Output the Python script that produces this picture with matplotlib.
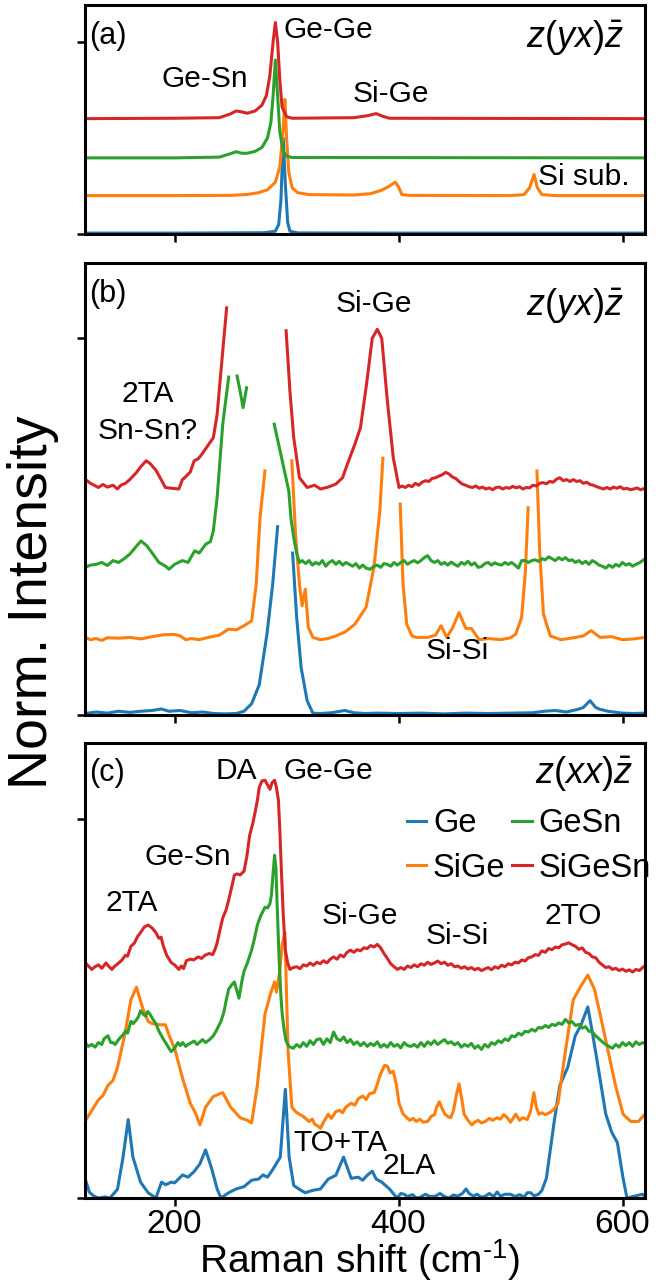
import numpy as np
import matplotlib
matplotlib.use("Agg")
import matplotlib.pyplot as plt

nan = np.nan

# ---- panel (a): z(yx)z, full scale ----
a_ge_x = [120, 200, 280, 290, 293, 295, 297, 299, 301, 303, 310, 400, 500, 620]
a_ge_y = [0.005, 0.005, 0.007, 0.015, 0.05, 0.18, 0.50, 0.25, 0.06, 0.015, 0.006, 0.005, 0.005, 0.005]

a_sige_x = [120, 200, 250, 265, 275, 283, 290, 294, 297, 298.5, 300, 302, 305, 310, 320, 360, 375, 385,
            392, 397, 400, 403, 410, 500, 512, 517, 521, 524, 528, 540, 620]
a_sige_y = [0.2, 0.2, 0.201, 0.206, 0.215, 0.23, 0.27, 0.35, 0.55, 0.70, 0.5, 0.32, 0.24, 0.215, 0.205, 0.203,
            0.21, 0.228, 0.25, 0.27, 0.245, 0.205, 0.201, 0.2, 0.205, 0.24, 0.31, 0.24, 0.205, 0.2, 0.2]

a_gesn_x = [120, 200, 240, 250, 255, 260, 265, 272, 278, 283, 286, 288, 290, 292, 294, 297, 300, 305, 620]
a_gesn_y = [0.396, 0.396, 0.40, 0.418, 0.428, 0.42, 0.42, 0.43, 0.45, 0.50, 0.58, 0.72, 0.905, 0.72, 0.53,
            0.43, 0.405, 0.398, 0.396]

a_sigesn_x = [120, 200, 240, 250, 255, 260, 265, 272, 278, 282, 285, 288, 290, 292, 294, 296, 300, 305,
              360, 372, 380, 386, 392, 620]
a_sigesn_y = [0.6, 0.602, 0.605, 0.625, 0.64, 0.635, 0.628, 0.64, 0.67, 0.72, 0.82, 1.0, 1.10, 1.0, 0.80,
              0.66, 0.61, 0.602, 0.605, 0.615, 0.626, 0.612, 0.602, 0.6]

# ---- panel (b): z(yx)z, magnified (peaks cut off) ----
b_ge_x = [120, 130, 140, 150, 160, 170, 180, 188, 195, 205, 215, 225, 235, 245, 255, 262, 268.8, 275.6,
          282.5, 287.6, 292, 298, 305.4, 309, 313, 318.4, 323.5, 330, 340, 352, 360, 370, 380, 400, 420,
          440, 460, 480, 500, 520, 530, 540, 550, 560, 565, 571, 576, 580, 587, 600, 610, 620]
b_ge_y = [0.004, 0.008, 0.005, 0.01, 0.007, 0.01, 0.012, 0.016, 0.01, 0.012, 0.006, 0.008, 0.004, 0.003,
          0.004, 0.01, 0.03, 0.08, 0.215, 0.347, 0.50, nan, 0.43, 0.26, 0.126, 0.038, 0.005, 0.004, 0.006,
          0.012, 0.006, 0.004, 0.005, 0.004, 0.005, 0.003, 0.005, 0.004, 0.005, 0.006, 0.01, 0.012, 0.008,
          0.015, 0.02, 0.038, 0.02, 0.015, 0.01, 0.005, 0.004, 0.005]

b_sige_x = [120, 125, 130, 135, 140, 150, 160, 170, 180, 190, 200, 205, 210, 215, 222, 230, 240, 248, 255,
            262, 268.8, 272.9, 276.3, 280.7, 290, 304.7, 308, 311.5, 313.9, 316.7, 319.4, 323.5, 330, 337,
            344, 352, 361, 371, 378, 383.3, 386, 394, 401.5, 404, 407.3, 412, 416, 426, 433, 438, 443, 448,
            454, 460, 465, 472, 480, 491, 500, 504.7, 509.9, 513.3, 515.7, 520, 523.6, 526, 529.4, 535.5,
            545, 556, 565, 572, 580, 590, 600, 610, 620]
b_sige_y = [0.206, 0.2, 0.203, 0.198, 0.205, 0.204, 0.206, 0.202, 0.208, 0.213, 0.214, 0.21, 0.2, 0.203,
            0.2, 0.206, 0.212, 0.228, 0.226, 0.237, 0.25, 0.347, 0.524, 0.648, nan, 0.675, 0.48, 0.347, 0.29,
            0.334, 0.233, 0.206, 0.2, 0.203, 0.21, 0.22, 0.241, 0.286, 0.392, 0.542, 0.682, nan, 0.56, 0.347,
            0.241, 0.21, 0.206, 0.206, 0.212, 0.237, 0.206, 0.23, 0.272, 0.23, 0.23, 0.2, 0.203, 0.2, 0.205,
            0.215, 0.259, 0.383, 0.55, nan, 0.648, 0.436, 0.268, 0.21, 0.2, 0.205, 0.21, 0.224, 0.206, 0.208,
            0.2, 0.202, 0.206]

b_gesn_x = [120, 125, 130, 135, 140, 145, 150, 155, 160, 165, 170, 175, 180, 186, 192, 195, 200, 207, 212,
            218, 222, 228, 232, 234.6, 238, 243, 248.3, 252, 255.8, 258.5, 261.2, 264.3, 275, 289, 302,
            304, 306.4, 309, 311.5, 314, 317, 320, 323, 326, 329, 332, 335, 338, 341, 344, 347, 350, 353,
            356, 359, 362, 365, 368, 371, 374.8, 378, 381, 384, 387, 390, 393, 396, 399, 402, 405, 408,
            411, 414, 417, 420, 423, 426, 429, 432, 435, 438, 441, 444, 447, 450, 453, 456, 459, 462, 465,
            468, 471, 474, 477, 480, 483, 486, 489, 492, 495, 498, 501, 504, 507, 510, 513, 516, 519, 522,
            525, 528, 531, 534, 537, 540, 543, 546, 549, 552, 555, 558, 561, 564, 567, 570, 573, 576, 579,
            582, 585, 588, 591, 594, 597, 600, 603, 606, 609, 612, 615, 618, 620]
b_gesn_y = [0.392, 0.398, 0.4, 0.405, 0.397, 0.41, 0.405, 0.415, 0.427, 0.445, 0.462, 0.45, 0.43, 0.405,
            0.395, 0.387, 0.4, 0.41, 0.405, 0.436, 0.43, 0.454, 0.46, 0.489, 0.577, 0.772, 0.897, nan, 0.90,
            0.86, 0.816, 0.869, nan, 0.772, 0.595,
            0.52, 0.471, 0.43, 0.405, 0.41, 0.402, 0.41, 0.398, 0.405, 0.4, 0.41, 0.395, 0.405, 0.41, 0.4,
            0.408, 0.398, 0.405, 0.4, 0.395, 0.402, 0.39, 0.398, 0.39, 0.387, 0.395, 0.398, 0.392, 0.402,
            0.4, 0.395, 0.405, 0.398, 0.405, 0.41, 0.4, 0.406, 0.41, 0.404, 0.41, 0.418, 0.423, 0.41,
            0.405, 0.41, 0.4, 0.405, 0.398, 0.406, 0.4, 0.395, 0.405, 0.4, 0.408, 0.398, 0.404, 0.392,
            0.394, 0.402, 0.405, 0.398, 0.404, 0.4, 0.398, 0.405, 0.4, 0.405, 0.398, 0.39, 0.41, 0.41,
            0.405, 0.41, 0.412, 0.408, 0.415, 0.412, 0.42, 0.415, 0.41, 0.418, 0.412, 0.418, 0.41, 0.412,
            0.405, 0.41, 0.402, 0.408, 0.4, 0.41, 0.405, 0.398, 0.395, 0.39, 0.398, 0.392, 0.4, 0.395,
            0.405, 0.398, 0.402, 0.395, 0.4, 0.404, 0.41, 0.414]

b_sigesn_x = [120, 125, 132, 136, 140, 145, 149, 152, 156, 160, 166, 170, 174.7, 178, 183.3, 188, 191.8,
              197, 203.8, 207, 209, 214, 217.5, 221, 224.3, 229.4, 234.6, 238, 243, 246.5, 270, 299.6, 303,
              306.4, 311.5, 318.4, 325, 330.3, 337, 344, 350, 354.3, 361, 366, 371.4, 376.5, 381, 385, 390,
              395.3, 400.4, 403, 406, 409, 412, 415, 418, 421, 424, 427, 430, 433, 436, 439, 442, 445, 448,
              451, 454, 457, 460, 463, 466, 469, 472, 475, 478, 481, 484, 487, 490, 493, 496, 499, 502, 505,
              508, 511, 514, 517, 520, 523, 526, 529, 532, 535, 538, 541, 544, 547, 550, 553, 556, 559, 562,
              565, 568, 571, 574, 577, 580, 583, 586, 589, 592, 595, 598, 601, 604, 607, 610, 613, 616, 620]
b_sigesn_y = [0.626, 0.615, 0.604, 0.612, 0.605, 0.61, 0.6, 0.61, 0.615, 0.625, 0.644, 0.66, 0.675, 0.668,
              0.65, 0.625, 0.604, 0.602, 0.6, 0.625, 0.63, 0.645, 0.675, 0.68, 0.692, 0.714, 0.736, 0.798,
              0.966, 1.081, nan, 1.02, 0.86, 0.736, 0.63, 0.604, 0.61, 0.6, 0.605, 0.613, 0.63, 0.666, 0.719,
              0.763, 0.878, 1.0, 1.024, 1.0, 0.834, 0.683, 0.604,
              0.608, 0.604, 0.61, 0.606, 0.615, 0.61, 0.618, 0.622, 0.62, 0.628, 0.63, 0.634, 0.638, 0.644,
              0.64, 0.632, 0.628, 0.62, 0.613, 0.61, 0.606, 0.604, 0.608, 0.602, 0.605, 0.6, 0.603, 0.598,
              0.604, 0.605, 0.6, 0.604, 0.602, 0.607, 0.603, 0.606, 0.6, 0.604, 0.603, 0.61, 0.608, 0.615,
              0.617, 0.614, 0.62, 0.618, 0.626, 0.63, 0.622, 0.625, 0.62, 0.625, 0.62, 0.622, 0.615, 0.618,
              0.612, 0.61, 0.606, 0.603, 0.6, 0.604, 0.6, 0.605, 0.602, 0.606, 0.6, 0.602, 0.598, 0.6,
              0.603, 0.598, 0.602]

# ---- panel (c): z(xx)z ----
c_ge_x = [120, 124, 128, 132, 138, 142.2, 149, 154, 158.6, 162.8, 169.6, 176.4, 183.3, 188.4, 192, 197,
          200, 207.2, 212, 217.5, 222.6, 227.7, 232.9, 238, 241.4, 248.3, 255, 262, 268.8, 275, 279, 283,
          287.6, 294.4, 298.9, 302.3, 306.4, 313, 316.7, 323, 330.3, 337.2, 344, 350.9, 357.7, 364, 368,
          372, 376.5, 380, 385, 391.9, 398.7, 402, 405, 408, 412.4, 416, 420, 424, 428, 433, 437, 441, 445,
          449, 453, 457, 460.3, 463, 467, 470, 474, 477.4, 481, 485, 488, 491, 495, 500, 504, 508.2, 512,
          515, 518, 521, 525, 528, 532, 539, 544, 551, 557.8, 563, 569, 573, 578.3, 585, 590.3, 595.4,
          600.5, 604, 610.8, 617.6, 620]
c_ge_y = [0.052, 0.015, 0.005, 0.0, 0.003, 0.0, 0.023, 0.108, 0.207, 0.108, 0.042, 0.014, 0.0, 0.042,
          0.035, 0.042, 0.04, 0.061, 0.055, 0.07, 0.09, 0.127, 0.08, 0.024, 0.0, 0.014, 0.024, 0.03, 0.047,
          0.05, 0.061, 0.055, 0.075, 0.108, 0.287, 0.108, 0.033, 0.02, 0.014, 0.02, 0.024, 0.05, 0.06,
          0.108, 0.052, 0.055, 0.047, 0.06, 0.071, 0.05, 0.042, 0.024, 0.0, 0.012, 0.01, 0.004, 0.009, 0.0,
          0.003, 0.01, 0.004, 0.005, 0.012, 0.004, 0.0, 0.008, 0.005, 0.012, 0.024, 0.012, 0.005, 0.01,
          0.002, 0.005, 0.012, 0.004, 0.016, 0.005, 0.01, 0.01, 0.004, 0.009, 0.002, 0.014, 0.014, 0.006,
          0.01, 0.02, 0.052, 0.202, 0.297, 0.344, 0.428, 0.457, 0.504, 0.438, 0.344, 0.222, 0.174, 0.146,
          0.052, 0.0, 0.005, 0.01, 0.005]

c_sige_x = [120, 124, 132, 136, 140.5, 145, 149, 156, 161, 166, 171.3, 176.4, 180, 186.7, 191.8, 195,
            200.4, 207.2, 214, 219, 222.6, 227.7, 234.6, 243, 250, 258.5, 265, 268.8, 273.9, 280.7, 285.9,
            289.3, 291, 294, 296.1, 298.5, 301.3, 304.7, 308, 311.5, 315, 320, 323, 325, 328, 330.3, 333,
            337.2, 340, 344, 347.4, 350, 353, 357.7, 361, 364, 368, 371, 374, 378.2, 381, 383, 385, 387.5,
            390, 392.5, 395.3, 398, 400.4, 404, 407.3, 410, 413, 415.8, 419, 422, 426, 429, 432, 434, 436.4,
            439, 441.5, 444, 446.6, 449, 451.5, 454, 456.5, 458.6, 462, 465.4, 468, 471, 474, 477.4, 481,
            484, 488, 491, 494, 497, 500, 504.7, 508, 511, 515, 518, 520.8, 523, 525.3, 528, 531, 535.5,
            539, 542.4, 549.2, 556, 563, 569, 574.9, 580, 586.8, 593.7, 600.5, 607.4, 614.2, 620]
c_sige_y = [0.202, 0.221, 0.259, 0.27, 0.297, 0.31, 0.344, 0.438, 0.523, 0.556, 0.503, 0.466, 0.46, 0.457,
            0.457, 0.43, 0.391, 0.315, 0.25, 0.222, 0.193, 0.24, 0.268, 0.278, 0.24, 0.212, 0.205, 0.198,
            0.297, 0.485, 0.541, 0.57, 0.543, 0.6, 0.67, 0.70, 0.39, 0.24, 0.228, 0.221, 0.215, 0.202, 0.208,
            0.195, 0.19, 0.184, 0.2, 0.221, 0.21, 0.228, 0.231, 0.225, 0.24, 0.25, 0.245, 0.262, 0.269, 0.26,
            0.275, 0.278, 0.3, 0.32, 0.334, 0.35, 0.348, 0.33, 0.334, 0.3, 0.25, 0.222, 0.212, 0.205, 0.21,
            0.202, 0.208, 0.2, 0.202, 0.215, 0.22, 0.24, 0.254, 0.235, 0.221, 0.215, 0.212, 0.23, 0.27,
            0.301, 0.26, 0.221, 0.205, 0.193, 0.2, 0.205, 0.198, 0.202, 0.21, 0.205, 0.212, 0.208, 0.22,
            0.212, 0.2, 0.221, 0.205, 0.212, 0.207, 0.23, 0.278, 0.24, 0.221, 0.225, 0.22, 0.226, 0.235,
            0.25, 0.391, 0.523, 0.56, 0.588, 0.551, 0.485, 0.391, 0.297, 0.221, 0.202, 0.202, 0.221]

c_gesn_x = [120, 123, 126, 129, 132, 135, 137, 140.5, 143, 145, 147, 149, 152, 154, 156, 158, 161, 163,
            166, 168, 169.6, 172, 174, 176, 178, 181, 183.3, 186, 190, 193, 195, 197, 200, 203, 205, 207.2,
            210, 212, 215, 217.5, 220, 222, 225, 227.7, 230, 232, 234.6, 237, 239, 241.4, 244, 246, 248.3,
            251, 253.4, 255.5, 257.5, 260, 262, 265, 268.8, 271, 273.9, 277, 280.7, 283, 285.2, 286.5,
            287.6, 289.3, 290.5, 291.5, 293.4, 295, 296.1, 298, 299.6, 302, 306, 309, 312, 315, 318, 321,
            324, 327, 330, 333, 336, 339, 342, 345, 348, 351, 354, 357, 360, 363, 366, 369, 372, 375, 378,
            381, 384, 387, 390, 393, 396, 399, 402, 405, 408, 411, 414, 417, 420, 423, 426, 429, 432, 435,
            438, 441, 444, 447, 450, 453, 456, 459, 462, 465, 468, 471, 474, 477, 480, 483, 486, 489, 492,
            495, 498, 501, 504, 507, 510, 513, 516, 519, 522, 525, 528, 531, 534, 537, 540, 543, 546, 549,
            552, 555, 558, 561, 564, 567, 570, 573, 576, 579, 582, 585, 588, 591, 594, 597, 600, 603, 606,
            609, 612, 615, 618, 620]
c_gesn_y = [0.41, 0.4, 0.405, 0.398, 0.41, 0.405, 0.42, 0.428, 0.41, 0.41, 0.405, 0.414, 0.425, 0.43,
            0.44, 0.435, 0.466, 0.46, 0.47, 0.48, 0.494, 0.485, 0.48, 0.492, 0.485, 0.47, 0.46, 0.44, 0.419,
            0.405, 0.395, 0.386, 0.395, 0.41, 0.402, 0.41, 0.4, 0.405, 0.41, 0.414, 0.405, 0.41, 0.418, 0.41,
            0.415, 0.42, 0.428, 0.44, 0.452, 0.466, 0.49, 0.52, 0.551, 0.562, 0.57, 0.548, 0.527, 0.57,
            0.598, 0.62, 0.654, 0.68, 0.72, 0.745, 0.767, 0.765, 0.777, 0.80, 0.843, 0.904, 0.87, 0.78,
            0.626, 0.53, 0.485, 0.44, 0.414, 0.4, 0.395, 0.405, 0.398, 0.41, 0.4, 0.415, 0.405, 0.418, 0.42,
            0.405, 0.42, 0.41, 0.438, 0.42, 0.415, 0.425, 0.41, 0.418, 0.405, 0.412, 0.402, 0.41, 0.4, 0.408,
            0.402, 0.412, 0.398, 0.405, 0.398, 0.41, 0.4, 0.405, 0.396, 0.41, 0.402, 0.4, 0.405, 0.398, 0.41,
            0.4, 0.412, 0.405, 0.415, 0.405, 0.412, 0.418, 0.408, 0.412, 0.404, 0.41, 0.398, 0.405, 0.4,
            0.408, 0.395, 0.402, 0.392, 0.405, 0.398, 0.41, 0.405, 0.415, 0.41, 0.42, 0.415, 0.428, 0.425,
            0.435, 0.43, 0.44, 0.438, 0.445, 0.44, 0.45, 0.448, 0.455, 0.45, 0.458, 0.455, 0.462, 0.458,
            0.471, 0.462, 0.465, 0.455, 0.458, 0.448, 0.452, 0.44, 0.438, 0.428, 0.42, 0.412, 0.405, 0.4,
            0.395, 0.405, 0.398, 0.41, 0.402, 0.41, 0.4, 0.412, 0.405, 0.41, 0.408]

c_sigesn_x = [120, 123, 126, 129, 132, 135, 138.8, 141, 144, 146, 148, 150, 152.5, 156, 158, 161, 164, 167,
              169.6, 173, 176.4, 180, 183.3, 186, 188, 190, 193, 197, 200, 203.8, 206, 208, 210.6, 214, 217,
              221, 224, 227, 231, 234, 236, 238, 240, 243, 246, 248.3, 251, 253.4, 256, 258.5, 262, 264.5,
              267, 270, 272.2, 274, 275.6, 278, 280.7, 283, 285.2, 287, 289.3, 290.8, 292.7, 294, 295.4, 297,
              298.9, 301, 303, 306, 309, 312, 315, 318, 321, 324, 327, 330, 333, 336, 339, 342, 345, 348,
              351, 354, 357, 360, 363, 366, 369, 372, 375, 378, 381, 384, 387, 390, 393, 396, 399, 402, 405,
              408, 411, 414, 417, 420, 423, 426, 429, 432, 435, 438, 441, 444, 447, 450, 453, 456, 459, 462,
              465, 468, 471, 474, 477, 480, 483, 486, 489, 492, 495, 498, 501, 504, 507, 510, 513, 516, 519,
              522, 525, 528, 531, 534, 537, 540, 543, 546, 549, 552, 555, 558, 561, 564, 567, 570, 573, 576,
              579, 582, 585, 588, 591, 594, 597, 600, 603, 606, 609, 612, 615, 618, 620]
c_sigesn_y = [0.621, 0.612, 0.603, 0.61, 0.615, 0.606, 0.62, 0.612, 0.603, 0.61, 0.615, 0.62, 0.626, 0.64,
              0.638, 0.664, 0.672, 0.69, 0.70, 0.715, 0.72, 0.712, 0.70, 0.685, 0.688, 0.664, 0.64, 0.621,
              0.615, 0.603, 0.612, 0.605, 0.626, 0.63, 0.628, 0.636, 0.632, 0.64, 0.645, 0.642, 0.655, 0.673,
              0.70, 0.739, 0.76, 0.786, 0.82, 0.852, 0.855, 0.852, 0.862, 0.9, 0.956, 0.99, 1.022, 1.05,
              1.083, 1.1, 1.102, 1.09, 1.078, 1.095, 1.102, 1.085, 1.05, 0.97, 0.862, 0.75, 0.654, 0.62,
              0.603, 0.608, 0.61, 0.605, 0.615, 0.612, 0.62, 0.614, 0.622, 0.618, 0.626, 0.62, 0.63, 0.636,
              0.63, 0.641, 0.636, 0.648, 0.654, 0.648, 0.655, 0.652, 0.66, 0.658, 0.666, 0.662, 0.669, 0.66,
              0.645, 0.632, 0.618, 0.61, 0.603, 0.608, 0.603, 0.612, 0.608, 0.615, 0.61, 0.618, 0.614,
              0.622, 0.616, 0.62, 0.625, 0.618, 0.622, 0.614, 0.618, 0.61, 0.612, 0.606, 0.61, 0.604, 0.608,
              0.602, 0.606, 0.6, 0.604, 0.608, 0.602, 0.61, 0.606, 0.614, 0.61, 0.618, 0.615, 0.622, 0.62,
              0.628, 0.625, 0.634, 0.636, 0.642, 0.64, 0.652, 0.648, 0.658, 0.655, 0.662, 0.66, 0.668, 0.67,
              0.673, 0.668, 0.664, 0.656, 0.66, 0.648, 0.645, 0.636, 0.634, 0.622, 0.615, 0.608, 0.61, 0.603,
              0.606, 0.6, 0.604, 0.598, 0.602, 0.596, 0.603, 0.6, 0.608, 0.612]

labels = ["Ge", "SiGe", "GeSn", "SiGeSn"]
colors = ["#1f77b4", "#ff7f0e", "#2ca02c", "#d62728"]

plt.rcParams["font.family"] = ["Liberation Sans", "DejaVu Sans"]
plt.rcParams["mathtext.fontset"] = "custom"
plt.rcParams["mathtext.rm"] = "Liberation Sans"
plt.rcParams["mathtext.it"] = "Liberation Sans:italic"

fig = plt.figure(figsize=(6.65, 12.86), dpi=100)
ax_a = fig.add_axes([0.1278, 0.818, 0.842, 0.178])
ax_b = fig.add_axes([0.1278, 0.444, 0.842, 0.3515])
ax_c = fig.add_axes([0.1278, 0.0684, 0.842, 0.3538])

panels = [
    (ax_a, [(a_ge_x, a_ge_y), (a_sige_x, a_sige_y), (a_gesn_x, a_gesn_y), (a_sigesn_x, a_sigesn_y)]),
    (ax_b, [(b_ge_x, b_ge_y), (b_sige_x, b_sige_y), (b_gesn_x, b_gesn_y), (b_sigesn_x, b_sigesn_y)]),
    (ax_c, [(c_ge_x, c_ge_y), (c_sige_x, c_sige_y), (c_gesn_x, c_gesn_y), (c_sigesn_x, c_sigesn_y)]),
]

for ax, series in panels:
    for (x, y), lab, col in zip(series, labels, colors):
        ax.plot(x, y, color=col, lw=2.2, label=lab)
    ax.set_xlim(120, 620)
    ax.set_ylim(0, 1.2)
    ax.set_xticks([200, 400, 600])
    ax.set_yticks([0, 1])
    ax.set_yticklabels([])
    ax.tick_params(direction="out", length=6, width=1.8, labelsize=24, pad=2)
    for s in ax.spines.values():
        s.set_linewidth(2.2)

ax_a.set_ylim(0, 1.19)
ax_a.set_xticklabels([])
ax_b.set_xticklabels([])

fs = 21.5
plab = 22
pol = 26

# (a)
ax_a.text(124, 1.03, "(a)", fontsize=plab, va="center")
ax_a.text(601, 1.02, r"$\mathit{z(yx)\bar{z}}$", fontsize=pol, ha="right", va="center")
ax_a.text(297, 1.06, "Ge-Ge", fontsize=fs, va="center")
ax_a.text(227, 0.806, "Ge-Sn", fontsize=fs, ha="center", va="center")
ax_a.text(393, 0.727, "Si-Ge", fontsize=fs, ha="center", va="center")
ax_a.text(606, 0.296, "Si sub.", fontsize=fs, ha="right", va="center")

# (b)
ax_b.text(124, 1.117, "(b)", fontsize=plab, va="center")
ax_b.text(601, 1.086, r"$\mathit{z(yx)\bar{z}}$", fontsize=pol, ha="right", va="center")
ax_b.text(378, 1.09, "Si-Ge", fontsize=fs, ha="center", va="center")
ax_b.text(176, 0.851, "2TA", fontsize=fs, ha="center", va="center")
ax_b.text(176, 0.754, "Sn-Sn?", fontsize=fs, ha="center", va="center")
ax_b.text(452, 0.17, "Si-Si", fontsize=fs, ha="center", va="center")

# (c)
ax_c.text(124, 1.12, "(c)", fontsize=plab, va="center")
ax_c.text(609, 1.12, r"$\mathit{z(xx)\bar{z}}$", fontsize=pol, ha="right", va="center")
ax_c.text(255, 1.127, "DA", fontsize=fs, ha="center", va="center")
ax_c.text(297, 1.127, "Ge-Ge", fontsize=fs, va="center")
ax_c.text(212, 0.90, "Ge-Sn", fontsize=fs, ha="center", va="center")
ax_c.text(162, 0.777, "2TA", fontsize=fs, ha="center", va="center")
ax_c.text(365, 0.745, "Si-Ge", fontsize=fs, ha="center", va="center")
ax_c.text(452, 0.69, "Si-Si", fontsize=fs, ha="center", va="center")
ax_c.text(556, 0.745, "2TO", fontsize=fs, ha="center", va="center")
ax_c.text(348, 0.146, "TO+TA", fontsize=fs, ha="center", va="center")
ax_c.text(409, 0.085, "2LA", fontsize=fs, ha="center", va="center")

ax_c.legend(loc="upper right", bbox_to_anchor=(1.01, 0.857), ncol=2, frameon=False, fontsize=23.5,
            handlelength=0.6, handletextpad=0.2, columnspacing=0.2, labelspacing=0.42,
            borderaxespad=0, borderpad=0)

fig.text(0.54, 0.02, "Raman shift (cm$^{\\mathregular{\u20101}}$)", fontsize=28, ha="center", va="center")
fig.text(0.05, 0.532, "Norm. Intensity", fontsize=40, rotation=90, ha="center", va="center")

fig.savefig("out.png", dpi=100)
